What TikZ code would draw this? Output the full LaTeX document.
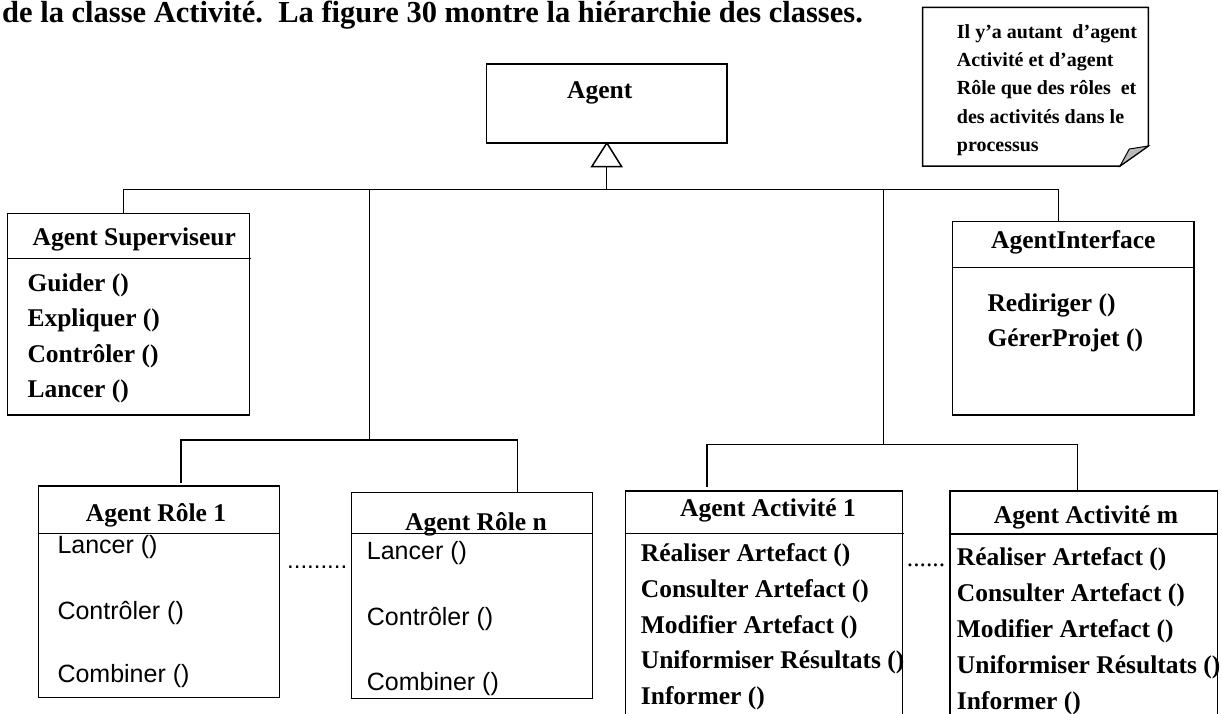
\documentclass[tikz,border=0pt]{standalone}
\usepackage{fontspec}
\setmainfont{Liberation Serif}
\setsansfont{Liberation Sans}
\usetikzlibrary{calc}

\begin{document}
\begin{tikzpicture}[x=1pt,y=-1pt,
  conn/.style={line width=1.5pt, line join=miter},
  classbox/.style={draw, rectangle, line width=1.5pt, inner sep=0pt, outer sep=0pt, anchor=north west},
  title/.style={font=\fontsize{25.5}{30}\selectfont\bfseries, inner sep=0pt, anchor=base},
  op/.style={font=\fontsize{25.5}{30}\selectfont\bfseries, inner sep=0pt, anchor=base west},
  sop/.style={font=\fontsize{25}{29}\selectfont\sffamily, inner sep=0pt, anchor=base west},
  notetext/.style={font=\fontsize{20}{24}\selectfont\bfseries, inner sep=0pt, anchor=base west}]

\path[use as bounding box] (0,0) rectangle (1222,713);
\clip (0,0) rectangle (1222,713);

% running text above the diagram
\node[anchor=base west, inner sep=0pt, font=\fontsize{30.5}{36}\selectfont\bfseries] (intro) at (2,22)
  {de la classe Activité.\ \ La figure 30 montre la hiérarchie des classes.};

% note with folded corner
\draw[conn] (922.7,7.3) -- (1148.3,7.3) -- (1148.3,146) -- (1120,166) -- (922.7,166) -- cycle;
\draw[conn, fill=gray!55, line width=1pt] (1148.3,146) -- (1129.3,149) -- (1120,166) -- cycle;
\node[notetext] (n1) at (956.7,38.3) {Il y’a autant\ \ d’agent};
\node[notetext] (n2) at (956.7,66.7) {Activité et d’agent};
\node[notetext] (n3) at (956.7,94.8) {Rôle que des rôles\ \ et};
\node[notetext] (n4) at (956.7,123.3) {des activités dans le};
\node[notetext] (n5) at (956.7,151.7) {processus};

% root class
\node[classbox, minimum width=240.3pt, minimum height=79pt] (agent) at (486.7,64) {};
\node[title] (agentT) at (599.7,98.3) {Agent};

% generalisation arrow and main bus
\coordinate (tribase) at (606.7,166.7);
\coordinate (hub) at (606.7,189.5);
\coordinate (busL) at (123.3,189.5);
\coordinate (busR) at (1058.3,189.5);
\coordinate (busRole) at (369.3,189.5);
\coordinate (busAct) at (883.3,189.5);
\draw[conn, fill=white] (agent.south) -- (591.7,166.7) -- (621.7,166.7) -- cycle;
\draw[conn] (tribase) -- (hub);

% Agent Superviseur
\node[classbox, minimum width=242pt, minimum height=201.7pt] (sup) at (7.3,213.3) {};
\draw[conn] ([yshift=-45.4pt]sup.north west) -- ([yshift=-45.4pt,xshift=2pt]sup.north east);
\node[title] (supT) at (134.3,245) {Agent Superviseur};
\node[op] (sup1) at (27.3,291) {Guider ()};
\node[op] (sup2) at (27.3,326.5) {Expliquer ()};
\node[op] (sup3) at (27.3,362) {Contrôler ()};
\node[op] (sup4) at (27.3,397.5) {Lancer ()};

% AgentInterface
\node[classbox, minimum width=241.7pt, minimum height=193.3pt] (iface) at (952.3,221.7) {};
\draw[conn] ([yshift=-45.6pt]iface.north west) -- ([yshift=-45.6pt]iface.north east);
\node[title] (ifaceT) at (1073.3,248.3) {AgentInterface};
\node[op] (iface1) at (987.3,311.7) {Rediriger ()};
\node[op] (iface2) at (987.3,346.7) {GérerProjet ()};

\draw[conn] (sup.north -| busL) -- (busL) -- (busR) -- (iface.north -| busR);

% Agent Rôle 1 .. n
\node[classbox, minimum width=241pt, minimum height=211.3pt] (role1) at (38.3,486) {};
\draw[conn] ([yshift=-47.3pt]role1.north west) -- ([yshift=-47.3pt]role1.north east);
\node[title] (role1T) at (156,521.7) {Agent Rôle 1};
\node[sop] (role1a) at (57.3,553.3) {Lancer ()};
\node[sop] (role1b) at (57.3,619) {Contrôler ()};
\node[sop] (role1c) at (57.3,682.3) {Combiner ()};

\node[classbox, minimum width=240.6pt, minimum height=206pt] (rolen) at (351.7,492.3) {};
\draw[conn] ([yshift=-41pt]rolen.north west) -- ([yshift=-41pt]rolen.north east);
\node[title] (rolenT) at (476,530) {Agent Rôle n};
\node[sop] (rolena) at (366.7,559) {Lancer ()};
\node[sop] (rolenb) at (366.7,625) {Contrôler ()};
\node[sop] (rolenc) at (366.7,690.5) {Combiner ()};

\node[anchor=base west, inner sep=0pt, font=\fontsize{24}{28}\selectfont\sffamily] (roledots) at (287,568) {.........};

\coordinate (roleJ) at (369.3,440);
\coordinate (roleL) at (181,440);
\coordinate (roleR) at (517.3,440);
\draw[conn] (busRole) -- (roleJ);
\draw[conn] ([yshift=2.7pt]role1.north -| roleL) -- (roleL) -- (roleR) -- (rolen.north -| roleR);

% Agent Activité 1 .. m
\node[classbox, minimum width=276.6pt, minimum height=260pt] (act1) at (625.7,491) {};
\draw[conn] ([yshift=-42.3pt]act1.north west) -- ([yshift=-42.3pt,xshift=2pt]act1.north east);
\node[title] (act1T) at (768,516.7) {Agent Activité 1};
\node[op] (act1a) at (640.7,561.5) {Réaliser Artefact ()};
\node[op] (act1b) at (640.7,597) {Consulter Artefact ()};
\node[op] (act1c) at (640.7,633) {Modifier Artefact ()};
\node[op] (act1d) at (640.7,668.5) {Uniformiser Résultats ()};
\node[op] (act1e) at (640.7,704.5) {Informer ()};

\node[classbox, minimum width=267.3pt, minimum height=260pt] (actm) at (950,491) {};
\draw[conn] ([yshift=-43pt]actm.north west) -- ([yshift=-43pt]actm.north east);
\node[title] (actmT) at (1086,523.3) {Agent Activité m};
\node[op] (actma) at (956.7,565) {Réaliser Artefact ()};
\node[op] (actmb) at (956.7,601) {Consulter Artefact ()};
\node[op] (actmc) at (956.7,637) {Modifier Artefact ()};
\node[op] (actmd) at (956.7,673) {Uniformiser Résultats ()};
\node[op] (actme) at (956.7,709) {Informer ()};

\node[anchor=base west, inner sep=0pt, font=\fontsize{25.5}{30}\selectfont] (actdots) at (906.7,566.7) {......};

\coordinate (actJ) at (883.3,444.3);
\coordinate (actL) at (707,444.3);
\coordinate (actR) at (1077.3,444.3);
\draw[conn] (busAct) -- (actJ);
\draw[conn] ([yshift=4.3pt]act1.north -| actL) -- (actL) -- (actR) -- (actm.north -| actR);

\end{tikzpicture}
\end{document}
